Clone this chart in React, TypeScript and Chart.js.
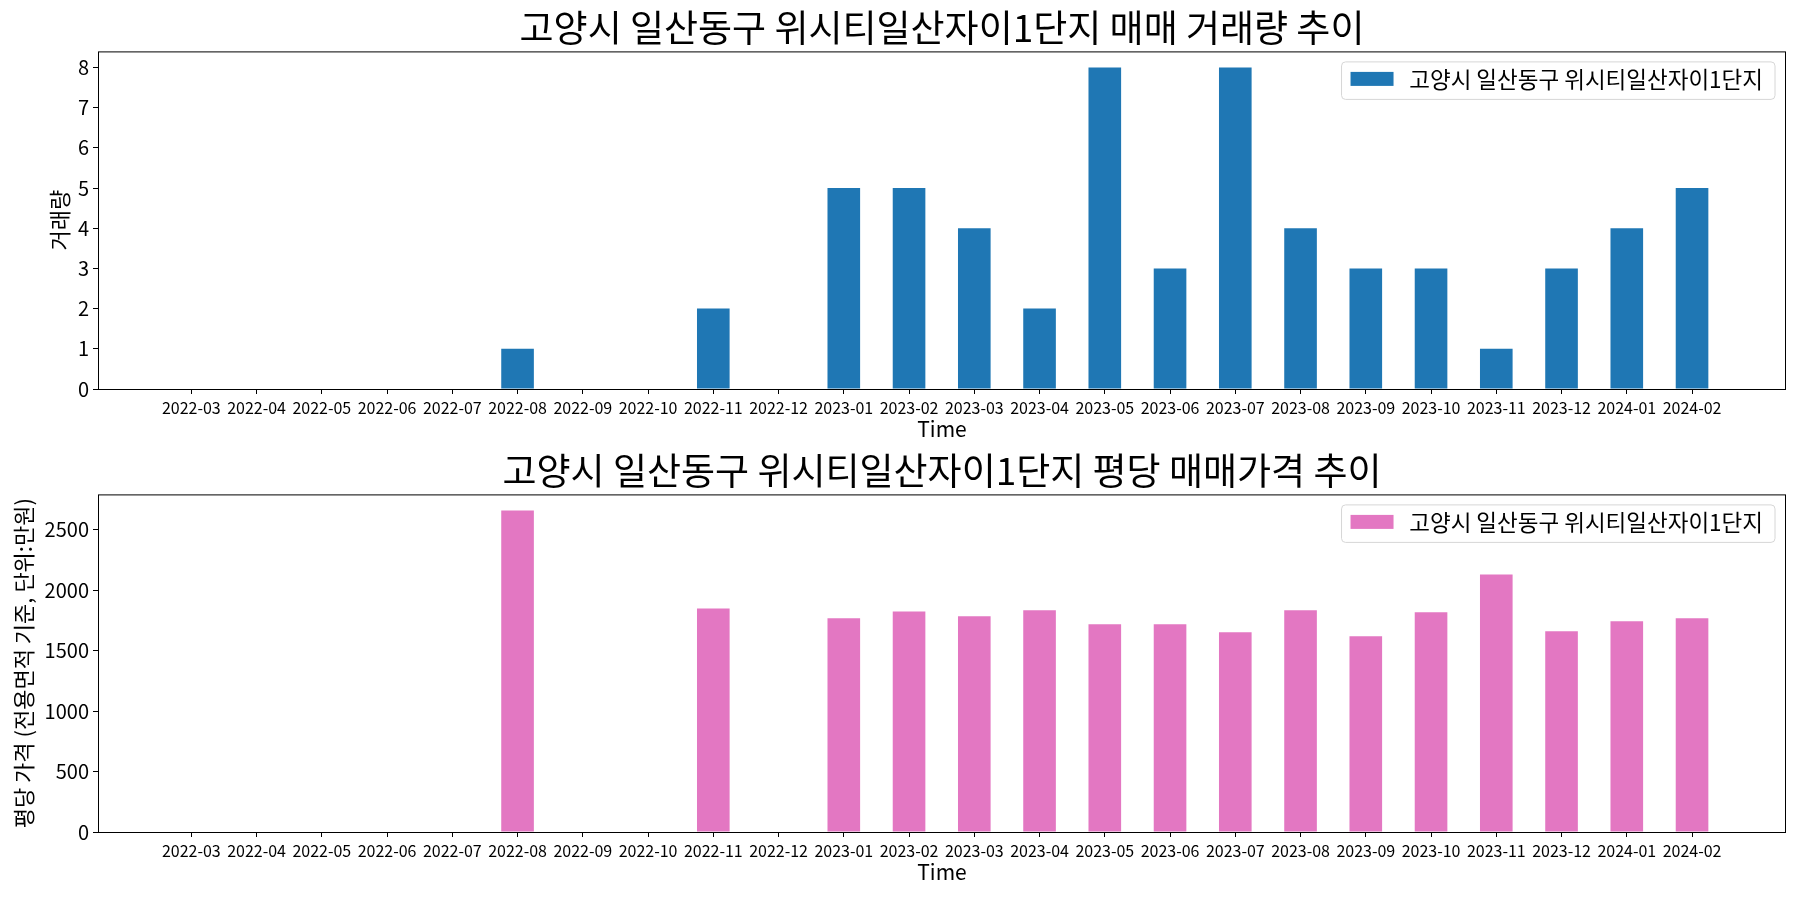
import React, { useEffect, useRef } from 'react';
import { Chart, registerables } from 'chart.js';

Chart.register(...registerables);

const FONT = "'Noto Sans CJK KR', 'Noto Sans', sans-serif";

// ---- data ----
const months = [
  '2022-03', '2022-04', '2022-05', '2022-06', '2022-07', '2022-08', '2022-09', '2022-10',
  '2022-11', '2022-12', '2023-01', '2023-02', '2023-03', '2023-04', '2023-05', '2023-06',
  '2023-07', '2023-08', '2023-09', '2023-10', '2023-11', '2023-12', '2024-01', '2024-02',
];
const volumes = [0, 0, 0, 0, 0, 1, 0, 0, 2, 0, 5, 5, 4, 2, 8, 3, 8, 4, 3, 3, 1, 3, 4, 5];
const prices: (number | null)[] = [
  null, null, null, null, null, 2660, null, null, 1850, null, 1768, 1825,
  1784, 1834, 1718, 1718, 1652, 1834, 1619, 1817, 2131, 1660, 1743, 1768,
];
const volumeTicks = [0, 1, 2, 3, 4, 5, 6, 7, 8];
const priceTicks = [0, 500, 1000, 1500, 2000, 2500];
const seriesLabel = '고양시 일산동구 위시티일산자이1단지';
const volumeTitle = '고양시 일산동구 위시티일산자이1단지 매매 거래량 추이';
const priceTitle = '고양시 일산동구 위시티일산자이1단지 평당 매매가격 추이';
const volumeAxisTitle = '거래량';
const priceAxisTitle = '평당 가격 (전용면적 기준, 단위:만원)';
const xAxisTitle = 'Time';

const LEGEND_FONT = 22.5;

const frameAndLegend = {
  id: 'frameAndLegend',
  afterDraw(chart: any) {
    const { ctx, chartArea: a } = chart;
    ctx.save();
    // axes frame
    ctx.strokeStyle = '#000';
    ctx.lineWidth = 1;
    ctx.strokeRect(a.left + 0.5, a.top + 0.5, a.right - a.left - 1, a.bottom - a.top);
    // legend box
    const ds = chart.data.datasets[0];
    ctx.font = `${LEGEND_FONT}px ${FONT}`;
    const tw = ctx.measureText(ds.label).width;
    const w = 67.7 + tw + 12;
    const h = 37.5;
    const right = a.right - 11;
    const left = right - w;
    const top = a.top + 10.5;
    ctx.beginPath();
    if ((ctx as any).roundRect) (ctx as any).roundRect(left, top, w, h, 4);
    else ctx.rect(left, top, w, h);
    ctx.fillStyle = 'rgba(255,255,255,0.8)';
    ctx.fill();
    ctx.strokeStyle = '#d6d6d6';
    ctx.stroke();
    ctx.fillStyle = ds.backgroundColor;
    ctx.fillRect(left + 9, top + 10, 43, 14);
    ctx.fillStyle = '#000';
    ctx.textBaseline = 'middle';
    ctx.textAlign = 'left';
    ctx.fillText(ds.label, left + 67.7, top + 17.5);
    ctx.restore();
  },
};

function BarPanel(props: {
  title: string;
  yTitle: string;
  values: (number | null)[];
  ticks: number[];
  color: string;
  yTitlePad: number;
  top: number;
}) {
  const ref = useRef<HTMLCanvasElement>(null);
  useEffect(() => {
    const { title, yTitle, values, ticks, color, yTitlePad } = props;
    const nums = values.filter((v) => v !== null) as number[];
    const yMax = Math.max(...nums) * 1.05;
    const chart = new Chart(ref.current!, {
      type: 'bar',
      data: {
        datasets: [
          {
            label: seriesLabel,
            data: values.map((v, i) => ({ x: i, y: v })) as any,
            backgroundColor: color,
            borderWidth: 0,
            barPercentage: 0.5,
            categoryPercentage: 1.0,
          },
        ],
      },
      options: {
        animation: false,
        responsive: false,
        devicePixelRatio: 1,
        layout: { padding: { left: 0, right: 14, top: 0, bottom: 0 } },
        plugins: {
          legend: { display: false },
          tooltip: { enabled: false },
          title: {
            display: true,
            text: title,
            fullSize: false,
            color: '#000',
            font: { family: FONT, size: 37, weight: 'normal' },
            padding: { top: 6, bottom: 1 },
          },
        },
        scales: {
          x: {
            type: 'linear',
            offset: false,
            min: -1.43,
            max: months.length - 1 + 1.44,
            afterBuildTicks: (axis: any) => {
              axis.ticks = months.map((_, i) => ({ value: i }));
            },
            afterFit: (s: any) => {
              s.height = 54;
            },
            ticks: {
              autoSkip: false,
              maxRotation: 0,
              minRotation: 0,
              padding: 4,
              color: '#000',
              font: { family: FONT, size: 16 },
              callback: (v: any) => months[v] ?? '',
            },
            grid: { offset: false, drawOnChartArea: false, drawTicks: true, tickLength: 5, color: '#000' },
            border: { display: false },
            title: {
              display: true,
              text: xAxisTitle,
              color: '#000',
              font: { family: FONT, size: 21 },
              padding: { top: 0, bottom: 1 },
            },
          },
          y: {
            type: 'linear',
            min: 0,
            max: yMax,
            afterBuildTicks: (axis: any) => {
              axis.ticks = ticks.map((v) => ({ value: v }));
            },
            afterFit: (s: any) => {
              s.width = 98;
            },
            ticks: {
              padding: 4,
              color: '#000',
              font: { family: FONT, size: 20 },
              callback: (v: any) => String(v),
            },
            grid: { drawOnChartArea: false, drawTicks: true, tickLength: 5, color: '#000' },
            border: { display: false },
            title: {
              display: true,
              text: yTitle,
              color: '#000',
              font: { family: FONT, size: 22 },
              padding: { top: yTitlePad, bottom: 0 },
            },
          },
        },
      },
      plugins: [frameAndLegend],
    } as any);
    return () => chart.destroy();
  }, []);
  return (
    <canvas
      ref={ref}
      width={1800}
      height={443}
      style={{ position: 'absolute', left: 0, top: props.top, width: 1800, height: 443 }}
    />
  );
}

export default function App() {
  return (
    <div
      style={{
        position: 'fixed',
        left: 0,
        top: 0,
        width: 1800,
        height: 900,
        background: '#fff',
        overflow: 'hidden',
      }}
    >
      <BarPanel
        title={volumeTitle}
        yTitle={volumeAxisTitle}
        values={volumes}
        ticks={volumeTicks}
        color="#1f77b4"
        yTitlePad={46}
        top={0}
      />
      <BarPanel
        title={priceTitle}
        yTitle={priceAxisTitle}
        values={prices}
        ticks={priceTicks}
        color="#e377c2"
        yTitlePad={10}
        top={443}
      />
    </div>
  );
}
